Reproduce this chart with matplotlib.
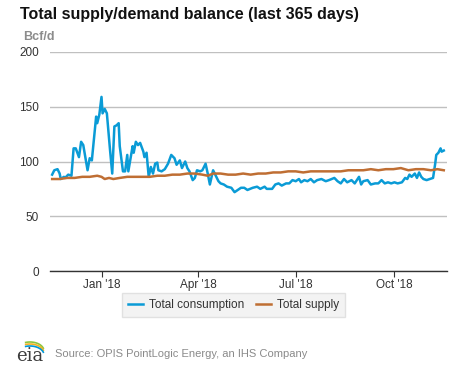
import matplotlib
matplotlib.use("Agg")
import matplotlib.pyplot as plt
import numpy as np
import pandas as pd

# consumption, Bcf/d
cons_dates = [
    "2017-11-16", "2017-11-18", "2017-11-21", "2017-11-23", "2017-11-24", "2017-11-27",
    "2017-11-28", "2017-12-01", "2017-12-04", "2017-12-06", "2017-12-08", "2017-12-11",
    "2017-12-13", "2017-12-15", "2017-12-19", "2017-12-21", "2017-12-23", "2017-12-27",
    "2017-12-28", "2017-12-30", "2018-01-01", "2018-01-02", "2018-01-04", "2018-01-06",
    "2018-01-09", "2018-01-11", "2018-01-13", "2018-01-15", "2018-01-17", "2018-01-18",
    "2018-01-21", "2018-01-23", "2018-01-25", "2018-01-26", "2018-01-30", "2018-01-31",
    "2018-02-02", "2018-02-04", "2018-02-06", "2018-02-09", "2018-02-10", "2018-02-12",
    "2018-02-14", "2018-02-16", "2018-02-18", "2018-02-20", "2018-02-22", "2018-02-23",
    "2018-02-26", "2018-03-01", "2018-03-04", "2018-03-07", "2018-03-10", "2018-03-12",
    "2018-03-15", "2018-03-17", "2018-03-20", "2018-03-22", "2018-03-24", "2018-03-27",
    "2018-03-29", "2018-03-31", "2018-04-03", "2018-04-05", "2018-04-08", "2018-04-10",
    "2018-04-12", "2018-04-15", "2018-04-17", "2018-04-20", "2018-04-22", "2018-04-25",
    "2018-04-28", "2018-05-02", "2018-05-05", "2018-05-08", "2018-05-11", "2018-05-14",
    "2018-05-17", "2018-05-22", "2018-05-26", "2018-05-29", "2018-06-02", "2018-06-04",
    "2018-06-09", "2018-06-12", "2018-06-15", "2018-06-18", "2018-06-22", "2018-06-25",
    "2018-06-28", "2018-07-01", "2018-07-04", "2018-07-06", "2018-07-09", "2018-07-12",
    "2018-07-15", "2018-07-18", "2018-07-21", "2018-07-25", "2018-07-29", "2018-08-01",
    "2018-08-06", "2018-08-09", "2018-08-12", "2018-08-15", "2018-08-18", "2018-08-22",
    "2018-08-25", "2018-08-29", "2018-08-31", "2018-09-02", "2018-09-06", "2018-09-09",
    "2018-09-13", "2018-09-16", "2018-09-19", "2018-09-22", "2018-09-25", "2018-09-28",
    "2018-10-01", "2018-10-04", "2018-10-08", "2018-10-11", "2018-10-13", "2018-10-15",
    "2018-10-17", "2018-10-20", "2018-10-22", "2018-10-24", "2018-10-26", "2018-10-28",
    "2018-10-31", "2018-11-03", "2018-11-06", "2018-11-08", "2018-11-09", "2018-11-11",
    "2018-11-13", "2018-11-14", "2018-11-16",
]
cons_values = [
    88, 92, 93, 89, 84, 86,
    85, 88, 87, 112, 112, 104,
    118, 115, 92, 103, 101, 141,
    135, 143, 159, 144, 148, 144,
    110, 89, 132, 133, 135, 114,
    91, 91, 106, 91, 114, 108,
    118, 115, 117, 109, 104, 108,
    86, 95, 89, 98, 99, 92,
    91, 93, 98, 106, 103, 97,
    101, 94, 100, 94, 91, 83,
    85, 92, 91, 92, 98, 89,
    79, 92, 88, 82, 80, 79,
    77, 76, 72, 74, 76, 76,
    74, 76, 77, 75, 77, 75,
    75, 79, 80, 78, 80, 80,
    83, 82, 84, 81, 83, 82,
    84, 81, 83, 84, 82, 83,
    85, 82, 80, 84, 81, 83,
    80, 86, 79, 82, 83, 79,
    80, 80, 83, 80, 81, 80,
    81, 80, 81, 85, 84, 88,
    86, 89, 85, 90, 86, 84,
    83, 84, 85, 98, 106, 108,
    112, 109, 110,
]

# supply, Bcf/d
supply_dates = [
    "2017-11-16", "2017-11-23", "2017-11-30", "2017-12-07", "2017-12-14", "2017-12-21",
    "2017-12-28", "2018-01-01", "2018-01-04", "2018-01-08", "2018-01-12", "2018-01-18",
    "2018-01-25", "2018-02-01", "2018-02-08", "2018-02-15", "2018-02-22", "2018-03-01",
    "2018-03-08", "2018-03-15", "2018-03-22", "2018-03-29", "2018-04-05", "2018-04-10",
    "2018-04-15", "2018-04-22", "2018-04-29", "2018-05-06", "2018-05-13", "2018-05-20",
    "2018-05-27", "2018-06-03", "2018-06-10", "2018-06-17", "2018-06-24", "2018-07-01",
    "2018-07-08", "2018-07-15", "2018-07-22", "2018-07-29", "2018-08-05", "2018-08-12",
    "2018-08-19", "2018-08-26", "2018-09-02", "2018-09-09", "2018-09-16", "2018-09-23",
    "2018-09-30", "2018-10-07", "2018-10-14", "2018-10-21", "2018-10-28", "2018-11-04",
    "2018-11-10", "2018-11-16",
]
supply_values = [
    84, 84, 85, 85, 86, 86,
    87, 86, 84, 85, 84, 85,
    86, 86, 86, 86, 87, 87,
    88, 88, 89, 89, 88, 87,
    89, 89, 88, 88, 89, 88,
    89, 89, 90, 90, 91, 91,
    90, 91, 91, 91, 91, 91,
    92, 92, 92, 93, 92, 93,
    93, 94, 92, 93, 93, 92,
    93, 92,
]

y_ticks = [0, 50, 100, 150, 200]
x_ticks = ["2018-01-01", "2018-04-01", "2018-07-01", "2018-10-01"]
x_tick_labels = ["Jan '18", "Apr '18", "Jul '18", "Oct '18"]

blue = "#0a9bd6"
brown = "#bf6e33"
text_col = "#333333"

plt.rcParams["font.family"] = ["Liberation Sans", "DejaVu Sans"]

fig = plt.figure(figsize=(4.77, 3.67), dpi=100)
ax = fig.add_axes([50 / 477, 96 / 367, 397 / 477, 219 / 367])

cd = pd.to_datetime(cons_dates)
sd = pd.to_datetime(supply_dates)
ax.plot(cd, cons_values, color=blue, lw=1.8, label="Total consumption", zorder=3)
ax.plot(sd, supply_values, color=brown, lw=1.8, label="Total supply", zorder=3)

ax.set_ylim(0, 200)
ax.set_xlim(pd.Timestamp("2017-11-14"), pd.Timestamp("2018-11-19"))
ax.set_yticks(y_ticks)
ax.set_xticks(pd.to_datetime(x_ticks))
ax.set_xticklabels(x_tick_labels)

ax.grid(axis="y", color="#c0c0c0", lw=1)
ax.set_axisbelow(True)
for s in ["top", "right", "left"]:
    ax.spines[s].set_visible(False)
ax.spines["bottom"].set_color(text_col)
ax.spines["bottom"].set_linewidth(1)
ax.tick_params(axis="y", length=0, pad=8, labelsize=8.5, labelcolor=text_col)
ax.tick_params(axis="x", length=4, color=text_col, pad=2, labelsize=8.5, labelcolor=text_col)

fig.text(20 / 477, 1 - 15 / 367, "Total supply/demand balance (last 365 days)",
         fontsize=11.5, fontweight="bold", color="#111111", va="center", ha="left")
fig.text(23 / 477, 1 - 37 / 367, "Bcf/d", fontsize=9, fontweight="bold",
         color="#8c8c8c", va="center", ha="left")

leg = fig.legend(loc="center", bbox_to_anchor=(233.5 / 477, 1 - 305 / 367), ncol=2,
                 frameon=True, fontsize=8.5, handlelength=1.3, handletextpad=0.5,
                 columnspacing=1.0, borderpad=0.5, fancybox=False)
leg.get_frame().set_facecolor("#f0f0f0")
leg.get_frame().set_edgecolor("#dcdcdc")
for t in leg.get_texts():
    t.set_color(text_col)

# source line with a small eia mark
fig.text(55 / 477, 1 - 354 / 367, "Source: OPIS PointLogic Energy, an IHS Company",
         fontsize=8, color="#8a8a8a", va="center", ha="left")
fig.text(16 / 477, 1 - 356 / 367, "eia", fontsize=13, color="#3c3c3c",
         va="center", ha="left", family="DejaVu Serif")
t = np.linspace(0.1, 0.6, 30) * np.pi
for col, dy in [("#8dc63f", 0), ("#f6b221", 2), ("#0096d6", 4)]:
    xs = 30 + 14 * np.cos(t)
    ys = 351 - 9 * np.sin(t) + dy
    fig.add_artist(plt.Line2D(xs / 477, 1 - ys / 367, color=col, lw=1.2,
                              transform=fig.transFigure))

fig.savefig("out.png", dpi=100)
